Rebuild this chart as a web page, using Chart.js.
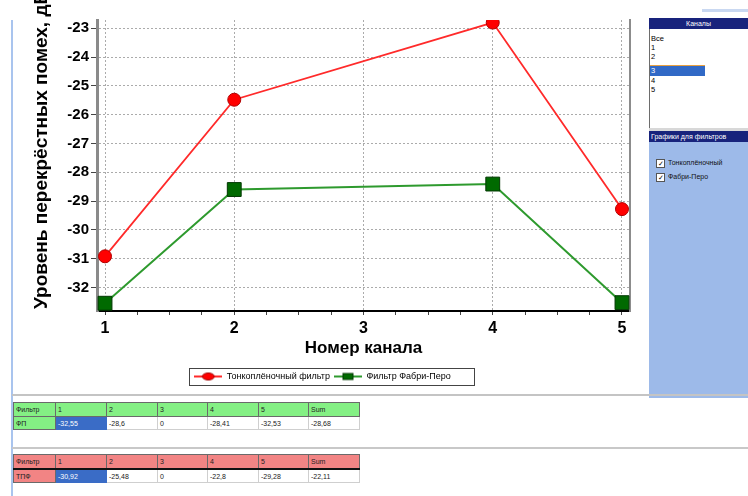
<!DOCTYPE html>
<html>
<head>
<meta charset="utf-8">
<script src="https://cdn.jsdelivr.net/npm/chart.js@4.4.1/dist/chart.umd.min.js"></script>
<style>
html,body{margin:0;padding:0;background:#fff;width:748px;height:496px;overflow:hidden;font-family:"Liberation Sans",Arial,sans-serif;}
.abs{position:absolute;}
#wrap{position:absolute;left:0;top:0;width:645px;height:395px;}
#leftLine{left:11px;top:20px;width:2px;height:476px;background:#a9c4ee;}
#hl1{left:12px;top:394px;width:736px;height:2px;background:#c4c4c4;}
#hl2{left:12px;top:447px;width:736px;height:2px;background:#c8c8c8;}
.navy{background:#18237c;color:#fff;font-size:7px;line-height:11px;overflow:hidden;white-space:nowrap;}
#panelBlue{left:649px;top:142px;width:99px;height:256px;background:#9dbae9;}
#list{left:649px;top:29px;width:98px;height:99px;background:#fff;border-left:1px solid #6d6d6d;}
.item{position:absolute;left:1px;font-size:7.5px;line-height:9px;color:#000;}
.chk{position:absolute;left:656px;width:7px;height:7px;background:#fff;border:1px solid #555;font-size:7px;line-height:7px;text-align:center;color:#000;}
.chkT{position:absolute;left:668px;font-size:7px;line-height:9px;color:#111;white-space:nowrap;}
table.t{position:absolute;border-collapse:collapse;table-layout:fixed;font-size:7px;color:#222;}
table.t td{padding:0 0 0 2px;white-space:nowrap;overflow:hidden;}
</style>
</head>
<body>
<div id="leftLine" class="abs"></div>
<div id="wrap"><canvas id="c" width="645" height="395"></canvas></div>

<div class="abs" style="left:702px;top:9px;width:46px;height:3px;background:#c9d8f1;"></div>
<div class="abs navy" style="left:649px;top:18px;width:99px;height:11px;text-align:center;" id="hdr1"></div>
<div id="list" class="abs"></div>
<div class="abs" style="left:649px;top:128px;width:99px;height:3px;background:#d8d8d8;"></div>
<div class="abs navy" style="left:649px;top:131px;width:99px;height:11px;padding-left:2px;box-sizing:border-box;" id="hdr2"></div>
<div id="panelBlue" class="abs"></div>
<div id="checks"></div>

<div id="hl1" class="abs"></div>
<div id="hl2" class="abs"></div>
<div id="tables"></div>

<script>
// ---------- data ----------
const channels = [1, 2, 3, 4, 5];
const thinFilmLevels = [-30.92, -25.48, null, -22.8, -29.28];
const fabryPerotLevels = [-32.55, -28.6, null, -28.41, -32.53];
const seriesNames = ['Тонкоплёночный фильтр', 'Фильтр Фабри-Перо'];
const xTickLabels = ['1', '2', '3', '4', '5'];
const yTickValues = [-32, -31, -30, -29, -28, -27, -26, -25, -24, -23];
const xAxisTitle = 'Номер канала';
const yAxisTitle = 'Уровень перекрёстных помех, дБ';

const tableHeader = ['Фильтр', '1', '2', '3', '4', '5', 'Sum'];
const fabryPerotRow = ['ФП', '-32,55', '-28,6', '0', '-28,41', '-32,53', '-28,68'];
const thinFilmRow = ['ТПФ', '-30,92', '-25,48', '0', '-22,8', '-29,28', '-22,11'];
const channelList = ['Все', '1', '2', '3', '4', '5'];
const panelTitles = ['Каналы', 'Графики для фильтров'];
const checkLabels = ['Тонкоплёночный', 'Фабри-Перо'];

// ---------- side panel ----------
document.getElementById('hdr1').textContent = panelTitles[0];
document.getElementById('hdr2').textContent = panelTitles[1];
const itemTops = [34, 43, 52, 65, 76, 85];
const list = document.getElementById('list');
channelList.forEach((t, i) => {
  const d = document.createElement('div');
  d.className = 'item';
  d.style.top = (itemTops[i] - 29) + 'px';
  d.textContent = t;
  if (t === '3') {
    d.style.left = '0px'; d.style.width = '54px'; d.style.height = '10px';
    d.style.background = '#3169c6'; d.style.color = '#fff'; d.style.paddingLeft = '1px';
    d.style.borderTop = '1px solid #e8a040';
  }
  list.appendChild(d);
});
const checks = document.getElementById('checks');
checkLabels.forEach((t, i) => {
  const b = document.createElement('div');
  b.className = 'chk'; b.style.top = (159 + i * 14) + 'px'; b.textContent = '✓';
  checks.appendChild(b);
  const l = document.createElement('div');
  l.className = 'chkT'; l.style.top = (158 + i * 14) + 'px'; l.textContent = t;
  checks.appendChild(l);
});

// ---------- tables ----------
const colW = [42, 51, 51, 50, 51, 50, 51];
function buildTable(top, headBg, row, headBottom) {
  const t = document.createElement('table');
  t.className = 't'; t.style.left = '13px'; t.style.top = top + 'px';
  const cg = document.createElement('colgroup');
  colW.forEach(w => { const c = document.createElement('col'); c.style.width = w + 'px'; cg.appendChild(c); });
  t.appendChild(cg);
  const tr1 = document.createElement('tr');
  tableHeader.forEach(h => {
    const td = document.createElement('td');
    td.textContent = h; td.style.background = headBg; td.style.height = '13px';
    td.style.border = '1px solid #6a6a6a'; td.style.borderBottom = headBottom;
    tr1.appendChild(td);
  });
  const tr2 = document.createElement('tr');
  row.forEach((v, i) => {
    const td = document.createElement('td');
    td.textContent = v; td.style.height = '12px';
    if (i === 0) { td.style.background = headBg; td.style.border = '1px solid #6a6a6a'; }
    else if (i === 1) { td.style.background = '#3a6cc6'; td.style.color = '#fff'; td.style.border = '1px solid #3a6cc6'; }
    else { td.style.background = '#fff'; td.style.border = '1px solid #cfcfcf'; }
    tr2.appendChild(td);
  });
  t.appendChild(tr1); t.appendChild(tr2);
  document.getElementById('tables').appendChild(t);
}
buildTable(402, '#84f084', fabryPerotRow, '1px solid #6a6a6a');
buildTable(454, '#f28484', thinFilmRow, '2px solid #111');

// ---------- chart ----------
Chart.defaults.font.family = '"Liberation Sans", Arial, sans-serif';
Chart.defaults.color = '#000';

function legendIcon(color, markerFill, markerStroke, square) {
  const c = document.createElement('canvas');
  c.width = 28; c.height = 10;
  const g = c.getContext('2d');
  g.strokeStyle = color; g.lineWidth = 2;
  g.beginPath(); g.moveTo(0, 5); g.lineTo(28, 5); g.stroke();
  g.fillStyle = markerFill; g.strokeStyle = markerStroke; g.lineWidth = 1;
  if (square) { g.fillRect(9, 2, 10, 6); g.strokeRect(9, 2, 10, 6); }
  else { g.beginPath(); g.ellipse(14, 5, 6, 3.5, 0, 0, Math.PI * 2); g.fill(); g.stroke(); }
  return c;
}
const legendIcons = [
  legendIcon('#ff2a2a', '#ff0000', '#a00000', false),
  legendIcon('#2e9a2e', '#006a00', '#003a00', true)
];

const quarterTicks = [];
channels.forEach((c, i) => {
  quarterTicks.push(c);
  if (i < channels.length - 1) [0.25, 0.5, 0.75].forEach(f => quarterTicks.push(c + f));
});

const yTitlePlugin = {
  id: 'yTitle',
  afterDraw(chart) {
    const {ctx, chartArea} = chart;
    ctx.save();
    ctx.translate(42, chartArea.bottom - 2);
    ctx.rotate(-Math.PI / 2);
    ctx.font = 'bold 19px "Liberation Sans", Arial, sans-serif';
    ctx.fillStyle = '#000';
    ctx.textAlign = 'left';
    ctx.textBaseline = 'middle';
    ctx.fillText(yAxisTitle, 0, 0);
    ctx.restore();
  }
};
const legendBoxPlugin = {
  id: 'legendBox',
  afterDraw(chart) {
    const boxes = chart.legend.legendHitBoxes;
    if (!boxes || !boxes.length) return;
    const ctx = chart.ctx;
    const l = Math.min(...boxes.map(b => b.left)) - 5;
    const r = Math.max(...boxes.map(b => b.left + b.width)) + 24;
    const t = boxes[0].top - 4, b = boxes[0].top + boxes[0].height + 4;
    ctx.save();
    ctx.strokeStyle = '#444'; ctx.lineWidth = 1;
    ctx.strokeRect(Math.round(l) + 0.5, Math.round(t) + 0.5, Math.round(r - l), Math.round(b - t));
    ctx.restore();
  }
};

const toPoints = arr => channels.map((c, i) => ({x: c, y: arr[i]}));

new Chart(document.getElementById('c'), {
  type: 'line',
  data: {
    datasets: [
      {
        label: seriesNames[0], data: toPoints(thinFilmLevels), spanGaps: true,
        borderColor: '#ff2a2a', borderWidth: 1.8,
        pointStyle: 'circle', pointRadius: 6.5,
        pointBackgroundColor: '#ff0000', pointBorderColor: '#b00000', pointBorderWidth: 1
      },
      {
        label: seriesNames[1], data: toPoints(fabryPerotLevels), spanGaps: true,
        borderColor: '#2e9a2e', borderWidth: 2,
        pointStyle: 'rect', pointRadius: 9.8,
        pointBackgroundColor: '#006a00', pointBorderColor: '#003800', pointBorderWidth: 1
      }
    ]
  },
  options: {
    responsive: false, animation: false, devicePixelRatio: 1,
    layout: {padding: {top: 20, left: 0, right: 0, bottom: 4}},
    plugins: {
      legend: {
        position: 'bottom',
        labels: {
          usePointStyle: true, pointStyleWidth: 28, padding: 4,
          font: {size: 9}, color: '#000',
          generateLabels(chart) {
            const items = Chart.defaults.plugins.legend.labels.generateLabels(chart);
            items.forEach((it, i) => { it.pointStyle = legendIcons[i]; });
            return items;
          }
        }
      },
      tooltip: {enabled: false}
    },
    scales: {
      x: {
        type: 'linear', min: 0.938, max: 5.062,
        afterBuildTicks(s) { s.ticks = quarterTicks.map(v => ({value: v})); },
        afterFit(s) { s.height = 57; },
        ticks: {
          autoSkip: false, maxRotation: 0, padding: 4,
          font: {size: 16, weight: 'bold'}, color: '#000',
          callback: v => { const i = channels.indexOf(v); return i >= 0 ? xTickLabels[i] : ''; }
        },
        grid: {
          color: c => (c.tick && Number.isInteger(c.tick.value)) ? '#ababab' : 'rgba(0,0,0,0)',
          tickColor: '#444', tickLength: 4, tickBorderDash: [], lineWidth: 1
        },
        border: {color: '#000', width: 2, dash: [2, 2]},
        title: {display: true, text: xAxisTitle, font: {size: 17, weight: 'bold'}, color: '#000', padding: {top: 0, bottom: 9}}
      },
      y: {
        type: 'linear', min: -32.82, max: -22.71,
        afterBuildTicks(s) { s.ticks = yTickValues.map(v => ({value: v})); },
        afterFit(s) { s.width = 97; },
        ticks: {padding: 2, font: {size: 15, weight: 'bold'}, color: '#000', callback: v => String(v)},
        grid: {color: '#ababab', tickColor: '#444', tickLength: 6, tickBorderDash: [], lineWidth: 1},
        border: {color: '#8a8a8a', width: 3, dash: [2, 2]}
      },
      yR: {
        type: 'linear', position: 'right', display: true,
        ticks: {display: false},
        grid: {drawOnChartArea: false, drawTicks: false},
        border: {color: '#8c8c8c', width: 2},
        afterFit(s) { s.width = 15; }
      }
    }
  },
  plugins: [yTitlePlugin, legendBoxPlugin]
});
</script>
</body>
</html>
